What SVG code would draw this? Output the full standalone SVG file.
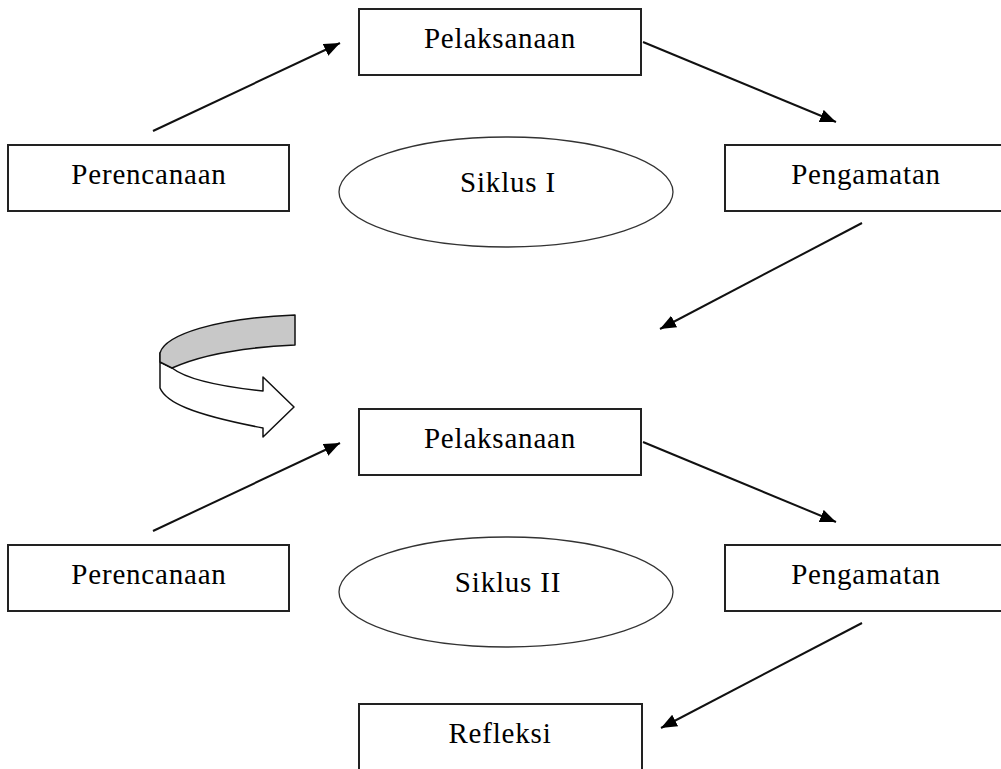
<svg xmlns="http://www.w3.org/2000/svg" width="1001" height="769" viewBox="0 0 1001 769">
<style>
.box{fill:#fff;stroke:#222;stroke-width:2}
.ell{fill:#fff;stroke:#333;stroke-width:1.3}
.lbl{font-family:"Liberation Serif","Times New Roman",serif;font-size:29px;letter-spacing:0.8px;fill:#000;text-anchor:middle}
.con{stroke:#111;stroke-width:2;fill:none;marker-end:url(#ah)}
.cv{stroke:#111;stroke-width:1.5;stroke-linejoin:round}
</style>
<defs>
<marker id="ah" markerUnits="userSpaceOnUse" markerWidth="18" markerHeight="14" refX="16" refY="6.5" orient="auto">
<path d="M0,0 L16,6.5 L0,13 z" fill="#000"/>
</marker>
</defs>
<rect width="1001" height="769" fill="#fff"/>
<g id="connectors">
<line class="con" x1="153" y1="131" x2="340" y2="43"/>
<line class="con" x1="643" y1="42" x2="836" y2="122"/>
<line class="con" x1="862" y1="223" x2="660" y2="329"/>
<line class="con" x1="153" y1="531" x2="340" y2="443"/>
<line class="con" x1="643" y1="442" x2="836" y2="522"/>
<line class="con" x1="862" y1="623" x2="661" y2="728"/>
</g>
<g id="n-pelaksanaan1"><rect class="box" x="359" y="9" width="282" height="66"/><text class="lbl" x="500" y="48">Pelaksanaan</text></g>
<g id="n-perencanaan1"><rect class="box" x="8" y="145" width="281" height="66"/><text class="lbl" x="149" y="184">Perencanaan</text></g>
<g id="n-siklus1"><ellipse class="ell" cx="506" cy="192" rx="167" ry="55"/><text class="lbl" x="508" y="192">Siklus I</text></g>
<g id="n-pengamatan1"><rect class="box" x="725" y="145" width="284" height="66"/><text class="lbl" x="866" y="184">Pengamatan</text></g>
<g id="curved-arrow">
<path class="cv" fill="#fff" d="M160,353 L160,388 C166,402 190,414 263,428 L263,437 L294,407 L263,377 L263,391 C215,386 185,378 172,368 L160,362 Z"/>
<path class="cv" fill="#c8c8c8" d="M295,315 L295,345 C250,347 205,353 172,368 L160,362 L160,353 C165,335 215,318 295,315 Z"/>
</g>
<g id="n-pelaksanaan2"><rect class="box" x="359" y="409" width="282" height="66"/><text class="lbl" x="500" y="448">Pelaksanaan</text></g>
<g id="n-perencanaan2"><rect class="box" x="8" y="545" width="281" height="66"/><text class="lbl" x="149" y="584">Perencanaan</text></g>
<g id="n-siklus2"><ellipse class="ell" cx="506" cy="592" rx="167" ry="55"/><text class="lbl" x="508" y="592">Siklus II</text></g>
<g id="n-pengamatan2"><rect class="box" x="725" y="545" width="284" height="66"/><text class="lbl" x="866" y="584">Pengamatan</text></g>
<g id="n-refleksi"><rect class="box" x="359" y="704" width="283" height="70"/><text class="lbl" x="500" y="743">Refleksi</text></g>
</svg>
